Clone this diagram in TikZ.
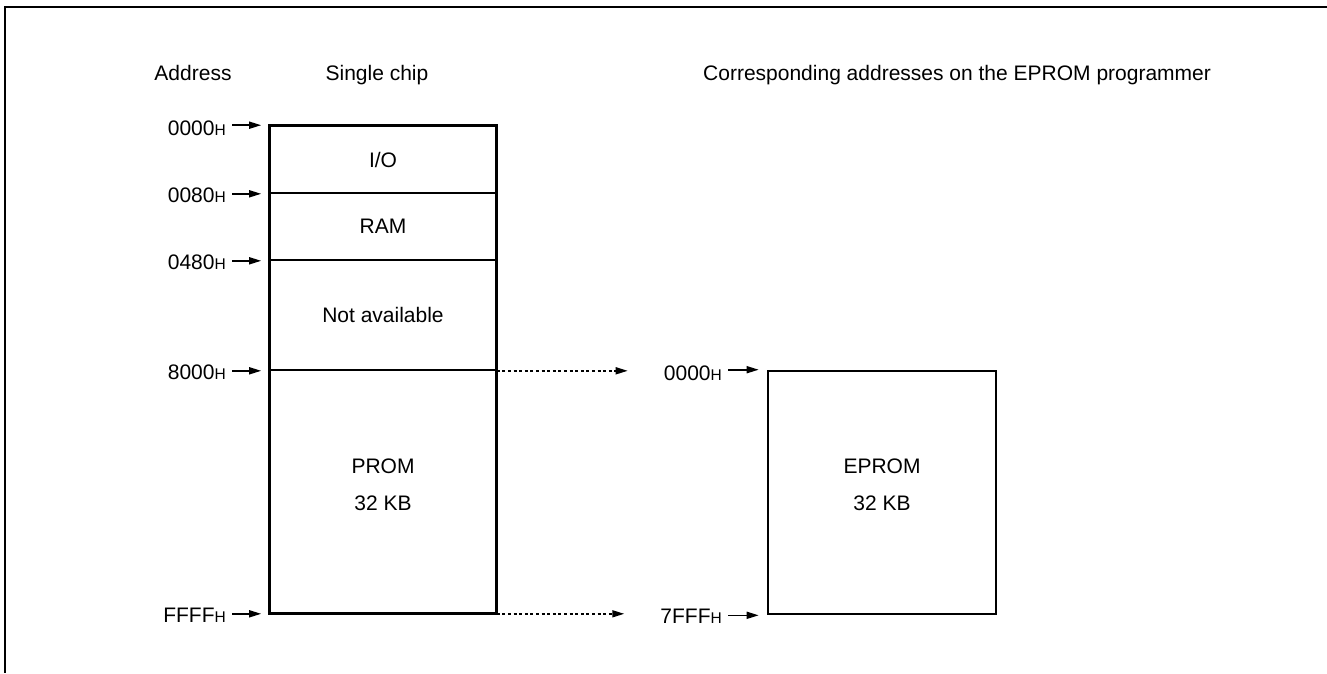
\documentclass[tikz,border=0pt]{standalone}
\usepackage{fontspec}
\setmainfont{Liberation Sans}
\usetikzlibrary{arrows.meta}
\newcommand{\hx}{{\fontsize{15.5}{18}\selectfont H}}
\tikzset{
  txt/.style={inner sep=0pt, font=\fontsize{21}{37}\selectfont},
  region/.style={draw, line width=1.6pt, minimum width=226pt, inner sep=0pt},
  outer/.style={draw, line width=2.6pt},
  addr/.style={line width=1.6pt, -{Triangle[length=12pt,width=7pt]}, shorten <=6pt, shorten >=8pt},
  mapto/.style={line width=1.6pt, dash pattern=on 3pt off 2.6pt, -{Triangle[length=12pt,width=7pt]}},
  frame/.style={line width=2.2pt}
}
\begin{document}
\begin{tikzpicture}[x=1pt,y=-1pt]
\useasboundingbox (0,0) rectangle (1327,673);
% frame
\coordinate (ftr) at (1327,7);
\coordinate (ftl) at (5,7);
\coordinate (fbl) at (5,673);
\draw[frame] (ftr) -- (ftl) -- (fbl);
% headers
\node[txt, anchor=base] (hAddr) at (193,80) {Address};
\node[txt, anchor=base] (hChip) at (377,80) {Single chip};
\node[txt, anchor=base west] (hProg) at (703,80) {Corresponding addresses on the EPROM programmer};
% single chip regions
\node[region, minimum height=67pt, txt] (io) at (383,159.5) {I/O};
\node[region, minimum height=67pt, txt] (ram) at (383,226.5) {RAM};
\node[region, minimum height=110pt, txt] (na) at (383,315) {Not available};
\node[region, minimum height=243pt] (prom) at (383,491.5) {};
\node[txt, align=center] (promtxt) at (383,484.5) {PROM\\32 KB};
\draw[outer] (io.north west) rectangle (prom.south east);
% EPROM
\node[outer, minimum width=228pt, minimum height=243pt, inner sep=0pt] (eprom) at (882,492.5) {};
\node[txt, align=center] (epromtxt) at (882,484.5) {EPROM\\32 KB};
% left address labels
\node[txt, anchor=east] (a0) at (226,128) {0000\hx};
\node[txt, anchor=east] (a1) at (226,195) {0080\hx};
\node[txt, anchor=east] (a2) at (226,262) {0480\hx};
\node[txt, anchor=east] (a3) at (226,372) {8000\hx};
\node[txt, anchor=east] (a4) at (226,615) {FFFF\hx};
\draw[addr] (a0.east |- io.north west) -- (io.north west);
\draw[addr] (a1.east |- io.south west) -- (io.south west);
\draw[addr] (a2.east |- ram.south west) -- (ram.south west);
\draw[addr] (a3.east |- na.south west) -- (na.south west);
\draw[addr] (a4.east |- prom.south west) -- (prom.south west);
% right address labels
\node[txt, anchor=east] (b0) at (722,373) {0000\hx};
\node[txt, anchor=east] (b1) at (722,616) {7FFF\hx};
\draw[addr] (b0.east |- eprom.north west) -- (eprom.north west);
\draw[addr] (b1.east |- eprom.south west) -- (eprom.south west);
% mapping
\draw[mapto, shorten >=36pt] (na.south east) -- (b0.west |- na.south east);
\draw[mapto, shorten >=36pt] (prom.south east) -- (b1.west |- prom.south east);
\end{tikzpicture}
\end{document}
